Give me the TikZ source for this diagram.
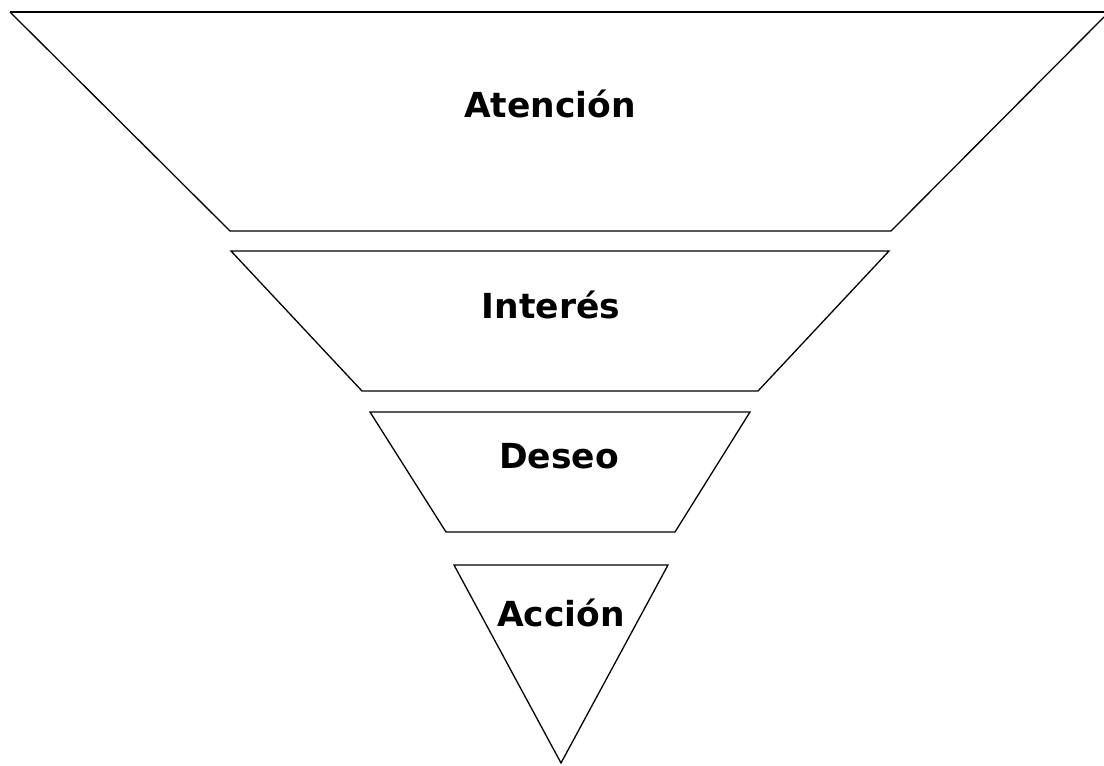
\documentclass[tikz,border=0pt]{standalone}
\usepackage{fontspec}
\setmainfont{DejaVu Sans}
\begin{document}
\begin{tikzpicture}[x=1pt,y=-1pt,
  stage/.style={draw=black,line width=1.3pt,line join=miter},
  lbl/.style={font=\fontsize{34.5}{40}\selectfont\bfseries,inner sep=0pt}]
\useasboundingbox (0,0) rectangle (1104,766);
\draw[stage] (10,12) -- (1104,12);
\draw[stage] (10,12) -- (230,231) -- (891,231) -- (1104,17);
\draw[stage] (231,251) -- (889,251) -- (758,391) -- (362,391) -- cycle;
\draw[stage] (370,412) -- (750,412) -- (675,532) -- (446,532) -- cycle;
\draw[stage] (454,565) -- (668,565) -- (561,763) -- cycle;
\node[lbl] (a) at (550,104) {Atención};
\node[lbl] (b) at (551,305) {Interés};
\node[lbl] (c) at (559,456) {Deseo};
\node[lbl] (d) at (561,613) {Acción};
\end{tikzpicture}
\end{document}
